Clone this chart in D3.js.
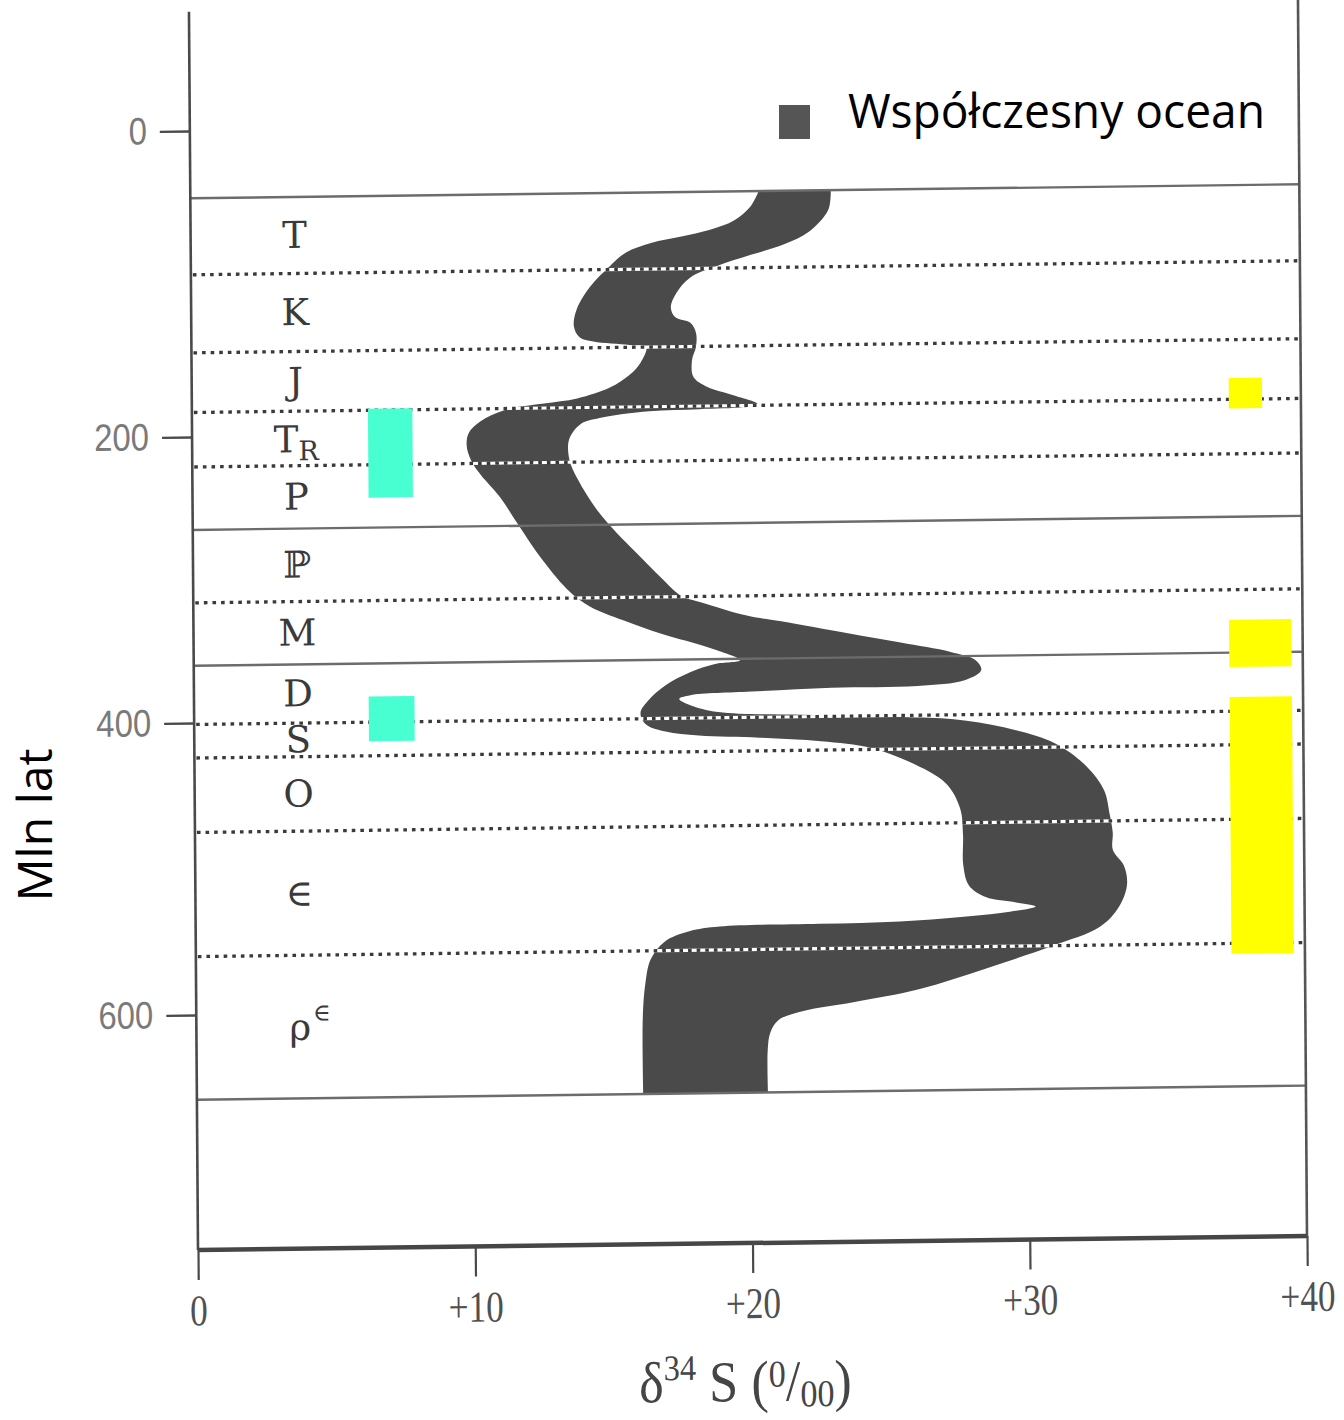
<!DOCTYPE html>
<html>
<head>
<meta charset="utf-8">
<script src="https://cdn.jsdelivr.net/npm/d3@7"></script>
<style>
  html, body { margin: 0; background: #fff; }
  svg { display: block; }
</style>
</head>
<body>
<svg id="chart" width="1344" height="1420"></svg>
<script>
// ---- Data -------------------------------------------------------------
// Period boundaries (Ma) and line style of each boundary
const periodBounds   = [44, 94, 145, 184, 221, 265, 316, 360, 401, 424, 475, 560, 658];
const boundaryStyle  = ["solid", "dotted", "dotted", "dotted", "dotted", "solid", "dotted",
                        "solid", "dotted", "dotted", "dotted", "dotted", "solid"];
// Period symbols ("_" = subscript, "^" = superscript)
const periodLabels   = ["T", "K", "J", "T_R", "P", "\u2119", "M", "D", "S", "O", "\u2208", "\u03C1^\u2208"];

// Age axis ticks (Ma) and d34S axis ticks (per mil)
const ageTicks    = [0, 200, 400, 600];
const dTicks      = [0, 10, 20, 30, 40];
const dTickLabels = ["0", "+10", "+20", "+30", "+40"];

// Sea-water sulphate d34S envelope: outline as [d34S, Ma] pairs.
// edgeA runs from the youngest end down to the oldest one,
// edgeB runs back up from the oldest end to the youngest one.
const edgeA = [
  [20.5, 44], [20.2, 54], [19.6, 63], [18.7, 69], [17.7, 73], [16.6, 77], [15.7, 83],
  [15.1, 92], [14.4, 105], [13.9, 120], [13.8, 131], [14.0, 138], [14.5, 141],
  [15.8, 143.5], [16.4, 145], [16.2, 155], [15.8, 163], [15.1, 171], [13.9, 178],
  [12.7, 181], [11.5, 184], [10.6, 190], [10.0, 199], [9.9, 208], [10.05, 218.5],
  [10.4, 229], [11.1, 245], [11.7, 263], [12.6, 289], [13.6, 312], [14.3, 322],
  [15.5, 332], [16.9, 342], [18.6, 352], [19.7, 361], [18.8, 363.4], [17.9, 369],
  [17.0, 378], [16.4, 388], [16.1, 397], [16.3, 405], [17.0, 410], [18.2, 413],
  [20.4, 415], [22.6, 418], [24.4, 423], [25.8, 433], [27.1, 448], [27.6, 465],
  [27.7, 483], [27.7, 504], [27.9, 518], [28.5, 526], [29.6, 530], [30.3, 533],
  [29.1, 537], [27.6, 539.5], [25.4, 542], [22.5, 543], [18.9, 544], [17.8, 547],
  [16.9, 554], [16.4, 566], [16.2, 583], [16.1, 607], [16.1, 658]
];
const edgeB = [
  [20.6, 658], [20.6, 629], [20.7, 617], [21.0, 608.5], [21.9, 602.5], [23.7, 597],
  [26.1, 588.5], [28.5, 575], [30.9, 560], [32.6, 547.6], [33.3, 534], [33.6, 519],
  [33.5, 506], [33.1, 495], [33.1, 483], [33.0, 471], [32.8, 454], [32.2, 438],
  [31.0, 421], [29.2, 410], [27.4, 404], [25.5, 402], [21.9, 399.7], [18.9, 397],
  [17.9, 392], [17.5, 387.5], [17.9, 385], [20.1, 383], [23.0, 381], [26.1, 380.5],
  [27.8, 377], [28.4, 370], [28.2, 363], [27.3, 357], [25.5, 350], [23.6, 343],
  [21.2, 334], [20.0, 330], [18.3, 320], [17.6, 315.5], [16.9, 303], [16.0, 285],
  [15.3, 271], [14.6, 255], [13.9, 233], [13.6, 219], [13.6, 205], [14.0, 195],
  [14.7, 191], [16.5, 187], [18.3, 186], [19.9, 185], [20.4, 183], [19.5, 177],
  [18.6, 171.6], [18.1, 165], [18.05, 154], [18.2, 145], [18.2, 136], [18.0, 129.5],
  [17.45, 125.6], [17.3, 119], [17.5, 110], [18.0, 100], [19.0, 92.5], [20.2, 85.6],
  [21.4, 79], [22.3, 71], [23.0, 57], [23.1, 44]
];

// Highlighted age intervals (Ma) with their d34S span
const cyanIntervals   = [[183, 244], [383, 414]];
const cyanSpan        = [[6.35, 7.95], [6.3, 7.95]];
const yellowIntervals = [[170, 190], [337, 370], [391, 567]];
const yellowSpan      = [[37.4, 38.6], [37.35, 39.6], [37.35, 39.6]];

// ---- Layout ------------------------------------------------------------
const svg = d3.select("#chart");

const x = d3.scaleLinear().domain([0, 40]).range([198, 1307]);
const y = d3.scaleLinear().domain(ageTicks).range([131, 437, 723, 1015]);

const ageTop = -78, ageBottom = 761;

// The printed figure sits slightly askew on the page
const sk = { a: 0.0073, b: 0.0127, x0: 198, y0: 1250 };
const plot = svg.append("g")
  .attr("transform", `matrix(1,${-sk.b},${sk.a},1,${-sk.a * sk.y0},${sk.b * sk.x0})`);

// ---- Envelope ----------------------------------------------------------
const clipId = "periodClip";
plot.append("clipPath").attr("id", clipId)
  .append("rect")
  .attr("x", x(0)).attr("width", x(40) - x(0))
  .attr("y", y(periodBounds[0]))
  .attr("height", y(periodBounds[periodBounds.length - 1]) - y(periodBounds[0]));

// each side is smoothed on its own; the ends are joined by straight cuts
const edgeLine = d3.line()
  .x(d => x(d[0]))
  .y(d => y(d[1]))
  .curve(d3.curveCatmullRom.alpha(0.5));

const envelopePath = edgeLine(edgeA) + "L" + edgeLine(edgeB).slice(1) + "Z";

plot.append("path")
  .attr("d", envelopePath)
  .attr("fill", "#4a4a4a")
  .attr("clip-path", `url(#${clipId})`);

// ---- Period boundaries -------------------------------------------------
periodBounds.forEach((b, i) => {
  if (boundaryStyle[i] === "dotted") {
    plot.append("line")
      .attr("x1", x(0)).attr("x2", x(40))
      .attr("y1", y(b)).attr("y2", y(b))
      .attr("stroke", "#fff").attr("stroke-width", 3.2);
    plot.append("line")
      .attr("x1", x(0) + 2).attr("x2", x(40))
      .attr("y1", y(b)).attr("y2", y(b))
      .attr("stroke", "#3a3a3a").attr("stroke-width", 3.3)
      .attr("stroke-dasharray", "3.6,5");
  } else {
    plot.append("line")
      .attr("x1", x(0)).attr("x2", x(40))
      .attr("y1", y(b)).attr("y2", y(b))
      .attr("stroke", "#6c6c6c").attr("stroke-width", 2.4);
  }
});

// ---- Period symbols ----------------------------------------------------
periodLabels.forEach((lab, i) => {
  const mid = (periodBounds[i] + periodBounds[i + 1]) / 2;
  const t = plot.append("text")
    .attr("x", x(3.75)).attr("y", y(mid))
    .attr("text-anchor", "middle")
    .attr("dominant-baseline", "central")
    .attr("font-family", "'DejaVu Serif', 'Liberation Serif', serif")
    .attr("font-size", 37)
    .attr("fill", "#3a3a3a");
  if (lab.includes("_")) {
    const [base, sub] = lab.split("_");
    t.append("tspan").text(base);
    t.append("tspan").attr("font-size", 27).attr("dy", 11).text(sub);
  } else if (lab.includes("^")) {
    const [base, sup] = lab.split("^");
    t.attr("x", x(4.1));
    t.append("tspan").text(base);
    t.append("tspan").attr("font-size", 24).attr("dy", -14).attr("dx", 2).text(sup);
  } else {
    t.text(lab);
  }
});

// ---- Highlight bars ----------------------------------------------------
plot.selectAll("rect.cyan").data(cyanIntervals).join("rect")
  .attr("class", "cyan")
  .attr("x", (d, i) => x(cyanSpan[i][0]))
  .attr("width", (d, i) => x(cyanSpan[i][1]) - x(cyanSpan[i][0]))
  .attr("y", d => y(d[0]))
  .attr("height", d => y(d[1]) - y(d[0]))
  .attr("fill", "#47ffd0");

plot.selectAll("rect.yellow").data(yellowIntervals).join("rect")
  .attr("class", "yellow")
  .attr("x", (d, i) => x(yellowSpan[i][0]))
  .attr("width", (d, i) => x(yellowSpan[i][1]) - x(yellowSpan[i][0]))
  .attr("y", d => y(d[0]))
  .attr("height", d => y(d[1]) - y(d[0]))
  .attr("fill", "#ffff00");

// ---- Frame -------------------------------------------------------------
plot.append("line")
  .attr("x1", x(0)).attr("x2", x(0))
  .attr("y1", y(ageTop)).attr("y2", y(ageBottom))
  .attr("stroke", "#4a4a4a").attr("stroke-width", 2.6);
plot.append("line")
  .attr("x1", x(40)).attr("x2", x(40))
  .attr("y1", y(-84)).attr("y2", y(ageBottom))
  .attr("stroke", "#555").attr("stroke-width", 2.6);
plot.append("line")
  .attr("x1", x(0)).attr("x2", x(40))
  .attr("y1", y(ageBottom)).attr("y2", y(ageBottom))
  .attr("stroke", "#464646").attr("stroke-width", 4.5);

// ---- Axes --------------------------------------------------------------
const ageAxis = plot.append("g")
  .attr("transform", `translate(${x(0)},0)`)
  .call(d3.axisLeft(y).tickValues(ageTicks).tickFormat(d3.format("d"))
    .tickSize(30).tickPadding(13));
ageAxis.select(".domain").remove();
ageAxis.selectAll(".tick line").attr("stroke", "#4a4a4a").attr("stroke-width", 2.4);
ageAxis.selectAll(".tick text")
  .attr("font-family", "'Liberation Sans Narrow', 'Liberation Sans', sans-serif")
  .attr("font-size", 38)
  .attr("fill", "#7a7a7a")
  .attr("textLength", d => String(d).length * 18.3)
  .attr("lengthAdjust", "spacingAndGlyphs");

const dAxis = plot.append("g")
  .attr("transform", `translate(0,${y(ageBottom)})`)
  .call(d3.axisBottom(x).tickValues(dTicks).tickFormat((d, i) => dTickLabels[i])
    .tickSize(30).tickPadding(14));
dAxis.select(".domain").remove();
dAxis.selectAll(".tick line").attr("stroke", "#4a4a4a").attr("stroke-width", 2.2);
dAxis.selectAll(".tick text")
  .attr("font-family", "'Liberation Serif', serif")
  .attr("font-size", 44)
  .attr("fill", "#505050")
  .attr("transform", "scale(0.8,1)");

// Axis title: d34S (per mil)
const title = plot.append("text")
  .attr("transform", `translate(${x(20) - 8},${y(ageBottom) + 158}) scale(0.9,1)`)
  .attr("text-anchor", "middle")
  .attr("font-family", "'Liberation Serif', serif")
  .attr("font-size", 58)
  .attr("fill", "#454545");
title.append("tspan").text("\u03B4");
title.append("tspan").attr("font-size", 36).attr("dy", -22).text("34");
title.append("tspan").attr("dy", 22).text(" S (");
title.append("tspan").attr("font-size", 38).attr("dy", -14).text("0");
title.append("tspan").attr("dy", 14).text("/");
title.append("tspan").attr("font-size", 38).attr("dy", 6).text("00");
title.append("tspan").attr("dy", -6).text(")");

// ---- Annotations -------------------------------------------------------
svg.append("rect")
  .attr("x", 779).attr("y", 105).attr("width", 31).attr("height", 34)
  .attr("fill", "#555");
svg.append("text")
  .attr("x", 848).attr("y", 128)
  .attr("font-family", "'Open Sans', 'Noto Sans', sans-serif")
  .attr("font-size", 48)
  .attr("textLength", 417)
  .attr("lengthAdjust", "spacingAndGlyphs")
  .attr("fill", "#000")
  .text("Współczesny ocean");

svg.append("text")
  .attr("transform", "translate(52,825) rotate(-90)")
  .attr("text-anchor", "middle")
  .attr("font-family", "'Open Sans', 'Noto Sans', sans-serif")
  .attr("font-size", 48)
  .attr("fill", "#000")
  .text("Mln lat");
</script>
</body>
</html>
